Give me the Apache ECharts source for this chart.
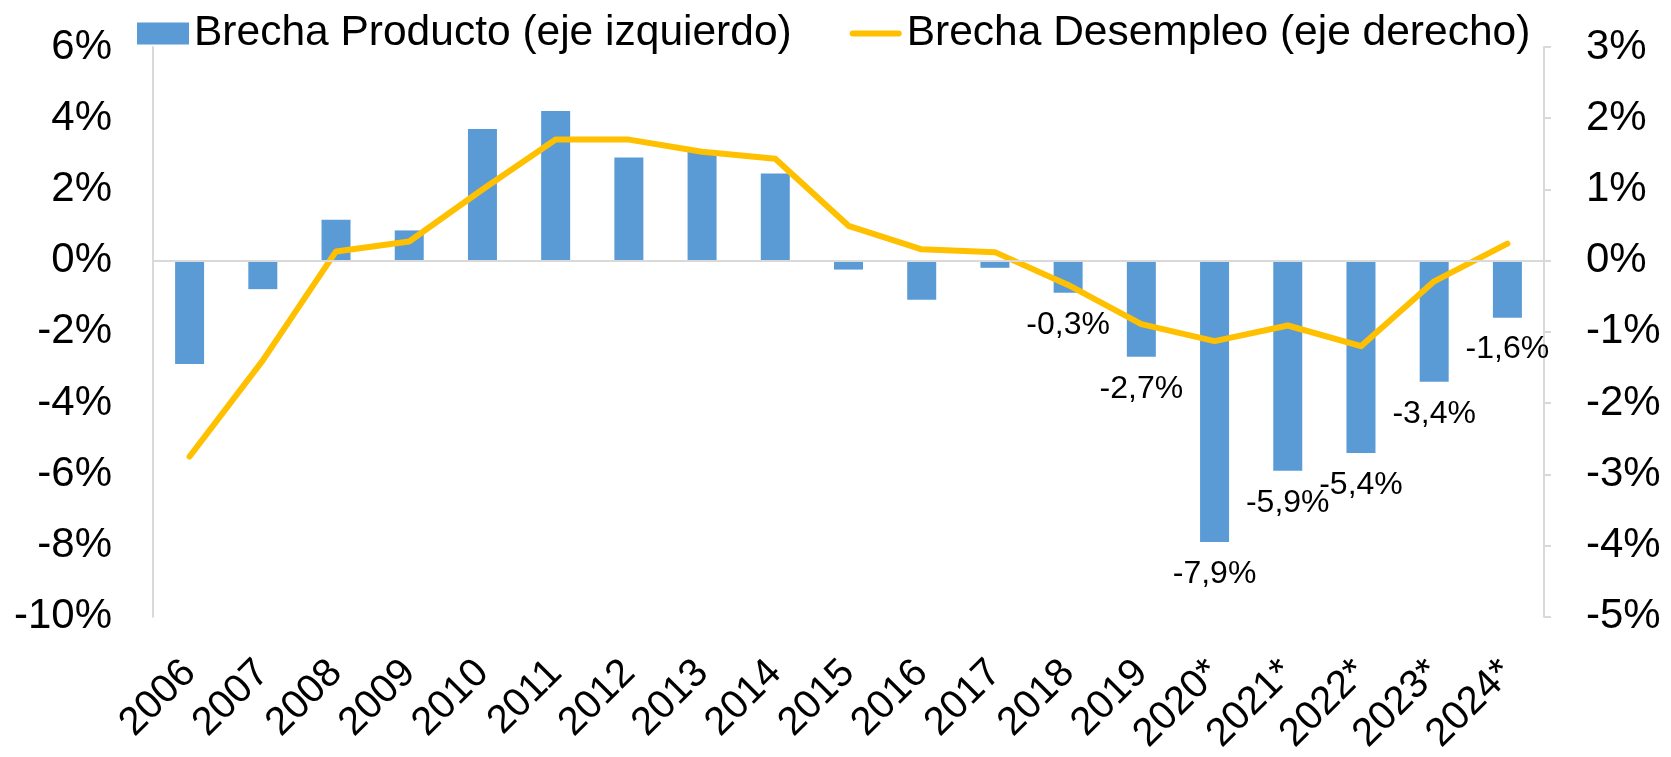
<!DOCTYPE html>
<html>
<head>
    <meta charset="utf-8">
    <title>Brecha Producto y Desempleo</title>
    <script src="https://cdn.jsdelivr.net/npm/echarts@6/dist/echarts.min.js"></script>
    <style>
        html, body { margin: 0; padding: 0; background: #ffffff; }
    </style>
</head>
<body>
<div id="main" style="width: 1671px;height:757px;"></div>
<script type="text/javascript">
    // datos
    var years = ['2006', '2007', '2008', '2009', '2010', '2011', '2012', '2013', '2014', '2015',
        '2016', '2017', '2018', '2019', '2020*', '2021*', '2022*', '2023*', '2024*'];
    var brechaProducto = [-2.9, -0.8, 1.15, 0.85, 3.7, 4.2, 2.9, 3.1, 2.45, -0.25,
        -1.1, -0.2, -0.9, -2.7, -7.9, -5.9, -5.4, -3.4, -1.6];
    var brechaDesempleo = [-2.75, -1.4, 0.13, 0.27, 1.0, 1.7, 1.7, 1.53, 1.43, 0.49,
        0.16, 0.12, -0.34, -0.89, -1.13, -0.91, -1.2, -0.29, 0.24];
    var etiquetas = ['', '', '', '', '', '', '', '', '', '',
        '', '', '-0,3%', '-2,7%', '-7,9%', '-5,9%', '-5,4%', '-3,4%', '-1,6%'];

    var fuente = 'Liberation Sans, Arial, sans-serif';
    var gris = '#d9d9d9';

    var myChart = echarts.init(document.getElementById('main'));

    var option = {
        animation: false,
        textStyle: {fontFamily: fuente, color: '#000000'},
        legend: {
            left: 132,
            top: 7,
            itemWidth: 52,
            itemHeight: 22,
            itemGap: 58,
            textStyle: {fontSize: 42.5, color: '#000000', fontFamily: fuente},
            data: [
                {name: 'Brecha Producto (eje izquierdo)', icon: 'rect'},
                {name: 'Brecha Desempleo (eje derecho)', icon: 'path://M3,0H49A3,3 0 0 1 49,6H3A3,3 0 0 1 3,0Z'}
            ]
        },
        grid: {
            left: 153,
            right: 127,
            top: 47,
            bottom: 139
        },
        xAxis: {
            type: 'category',
            data: years,
            axisLine: {show: false},
            axisTick: {show: false},
            axisLabel: {
                interval: 0,
                rotate: 45,
                margin: 50,
                fontSize: 40,
                color: '#000000',
                fontFamily: fuente
            }
        },
        yAxis: [
            {
                type: 'value',
                min: -10,
                max: 6,
                interval: 2,
                position: 'left',
                axisLine: {show: true, lineStyle: {color: gris, width: 2}},
                axisTick: {show: false},
                splitLine: {show: false},
                axisLabel: {
                    formatter: '{value}%',
                    fontSize: 42,
                    margin: 41,
                    color: '#000000',
                    fontFamily: fuente
                }
            },
            {
                type: 'value',
                min: -5,
                max: 3,
                interval: 1,
                position: 'right',
                axisLine: {show: true, lineStyle: {color: gris, width: 2}},
                axisTick: {show: true, length: 7, lineStyle: {color: gris, width: 2}},
                splitLine: {show: false},
                axisLabel: {
                    formatter: '{value}%',
                    fontSize: 42,
                    margin: 42,
                    color: '#000000',
                    fontFamily: fuente
                }
            }
        ],
        series: [
            {
                name: 'Brecha Producto (eje izquierdo)',
                type: 'bar',
                yAxisIndex: 0,
                data: brechaProducto,
                barWidth: 29,
                itemStyle: {color: '#5b9bd5'},
                label: {
                    show: true,
                    position: 'bottom',
                    distance: 16,
                    fontSize: 32,
                    color: '#000000',
                    fontFamily: fuente,
                    formatter: function (p) {
                        return etiquetas[p.dataIndex];
                    }
                },
                markLine: {
                    silent: true,
                    symbol: 'none',
                    label: {show: false},
                    lineStyle: {color: gris, type: 'solid', width: 2},
                    data: [{yAxis: 0}]
                }
            },
            {
                name: 'Brecha Desempleo (eje derecho)',
                type: 'line',
                yAxisIndex: 1,
                data: brechaDesempleo,
                symbol: 'none',
                z: 3,
                itemStyle: {color: '#ffc000'},
                lineStyle: {color: '#ffc000', width: 6, cap: 'round', join: 'round'}
            }
        ]
    };

    myChart.setOption(option);
</script>
</body>
</html>
